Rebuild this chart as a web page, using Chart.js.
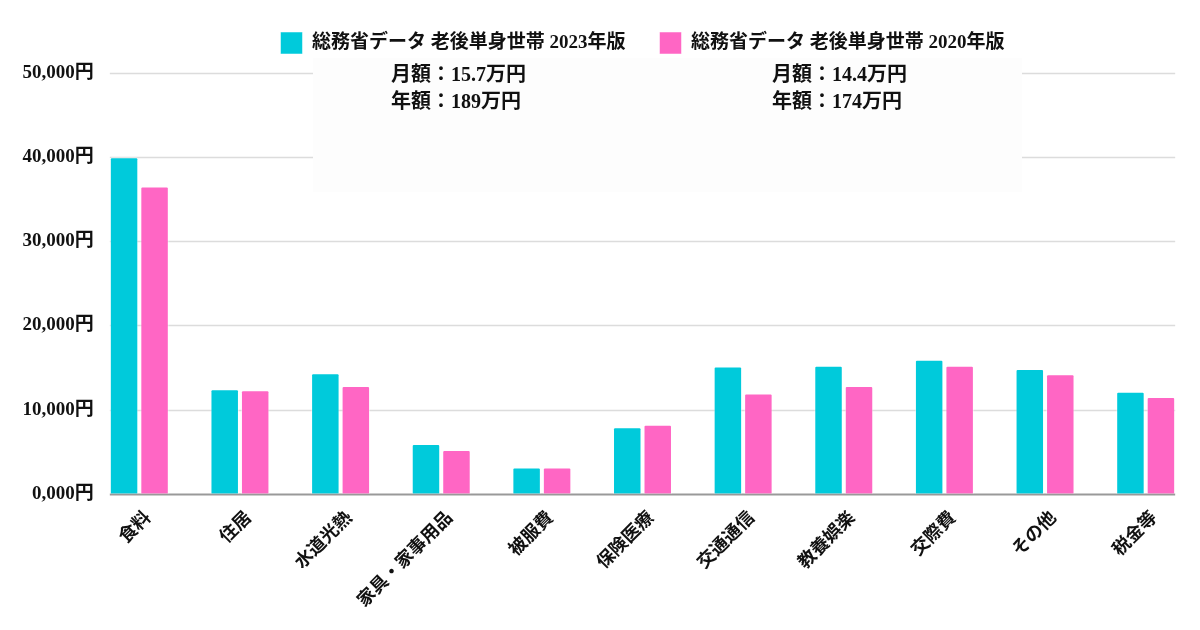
<!DOCTYPE html>
<html lang="ja">
<head>
<meta charset="utf-8">
<script src="https://cdn.jsdelivr.net/npm/chart.js@4"></script>
<style>
  html, body { margin: 0; padding: 0; background: #fff; }
  #wrap { width: 1200px; height: 630px; }
</style>
</head>
<body>
<div id="wrap"><canvas id="costChart" width="1200" height="630"></canvas></div>
<script>
const categories = ['食料', '住居', '水道光熱', '家具・家事用品', '被服費', '保険医療', '交通通信', '教養娯楽', '交際費', 'その他', '税金等'];
const series2023 = [40000, 12400, 14300, 5900, 3100, 7900, 15100, 15200, 15900, 14800, 12100];
const series2020 = [36500, 12300, 12800, 5200, 3100, 8200, 11900, 12800, 15200, 14200, 11500];
const seriesNames = ['総務省データ 老後単身世帯 2023年版', '総務省データ 老後単身世帯 2020年版'];
const yTickLabels = ['0,000円', '10,000円', '20,000円', '30,000円', '40,000円', '50,000円'];
const summary2023 = ['月額：15.7万円', '年額：189万円'];
const summary2020 = ['月額：14.4万円', '年額：174万円'];

const FONT = "'Liberation Serif', 'Noto Sans CJK JP', serif";
const CYAN = '#00cadb';
const PINK = '#ff66c4';

// legend keeps its wide item gap but takes a fixed room above the plot
const legendHeight = {
  id: 'legendHeight',
  beforeInit(chart) {
    const fit = chart.legend.fit;
    chart.legend.fit = function () {
      fit.bind(chart.legend)();
      this.height = 75;
    };
  }
};

// gridlines only span the bars, y labels hang right up to the first bar,
// and the summary box sits on top of the gridlines
const gridAndBox = {
  id: 'gridAndBox',
  beforeDatasetsDraw(chart) {
    const ctx = chart.ctx;
    const first = chart.getDatasetMeta(0).data[0];
    const last = chart.getDatasetMeta(1).data[categories.length - 1];
    const x0 = first.x - first.width / 2;
    const x1 = last.x + last.width / 2;
    const y = chart.scales.y;
    ctx.save();
    y.ticks.forEach((t, i) => {
      const py = Math.round(y.getPixelForValue(t.value)) + 0.5;
      ctx.strokeStyle = t.value === 0 ? '#999999' : '#dcdcdc';
      ctx.lineWidth = t.value === 0 ? 2 : 1.5;
      ctx.beginPath();
      ctx.moveTo(x0, py);
      ctx.lineTo(x1, py);
      ctx.stroke();
      ctx.fillStyle = '#111';
      ctx.font = 'bold 19px ' + FONT;
      ctx.textAlign = 'right';
      ctx.textBaseline = 'middle';
      ctx.fillText(yTickLabels[i], x0 - 16, py);
    });
    ctx.restore();
  },
  afterDatasetsDraw(chart) {
    const ctx = chart.ctx;
    ctx.save();
    ctx.fillStyle = '#fdfdfd';
    ctx.fillRect(313, 58, 709, 134);
    ctx.fillStyle = '#111';
    ctx.font = 'bold 20px ' + FONT;
    ctx.textBaseline = 'middle';
    summary2023.forEach((s, i) => ctx.fillText(s, 391, 76 + i * 27));
    summary2020.forEach((s, i) => ctx.fillText(s, 772, 76 + i * 27));
    ctx.restore();
  }
};

new Chart(document.getElementById('costChart'), {
  type: 'bar',
  data: {
    labels: categories,
    datasets: [
      { label: seriesNames[0], data: series2023, backgroundColor: CYAN, borderColor: 'rgba(255,255,255,0.5)', borderWidth: 1, borderRadius: 2, borderSkipped: 'bottom' },
      { label: seriesNames[1], data: series2020, backgroundColor: PINK, borderColor: 'rgba(255,255,255,0.5)', borderWidth: 1, borderRadius: 2, borderSkipped: 'bottom' }
    ]
  },
  options: {
    responsive: false,
    animation: false,
    devicePixelRatio: 1,
    layout: { padding: { left: 0, right: 4, top: -2, bottom: 12 } },
    datasets: { bar: { categoryPercentage: 0.606, barPercentage: 0.934 } },
    plugins: {
      legend: {
        position: 'top',
        fullSize: false,
        labels: {
          boxWidth: 22, boxHeight: 22, padding: 34,
          color: '#111',
          font: { family: FONT, size: 19, weight: 'bold' }
        }
      },
      tooltip: { enabled: false }
    },
    scales: {
      x: {
        grid: { display: false },
        border: { display: false },
        ticks: {
          color: '#111',
          maxRotation: 45, minRotation: 45,
          padding: 6,
          labelOffset: 9,
          font: { family: FONT, size: 18, weight: 'bold' }
        }
      },
      y: {
        min: 0, max: 50000,
        grid: { display: false, drawTicks: false },
        border: { display: false },
        afterFit(scale) { scale.width = 89; },
        ticks: { stepSize: 10000, display: false }
      }
    }
  },
  plugins: [legendHeight, gridAndBox]
});
</script>
</body>
</html>
